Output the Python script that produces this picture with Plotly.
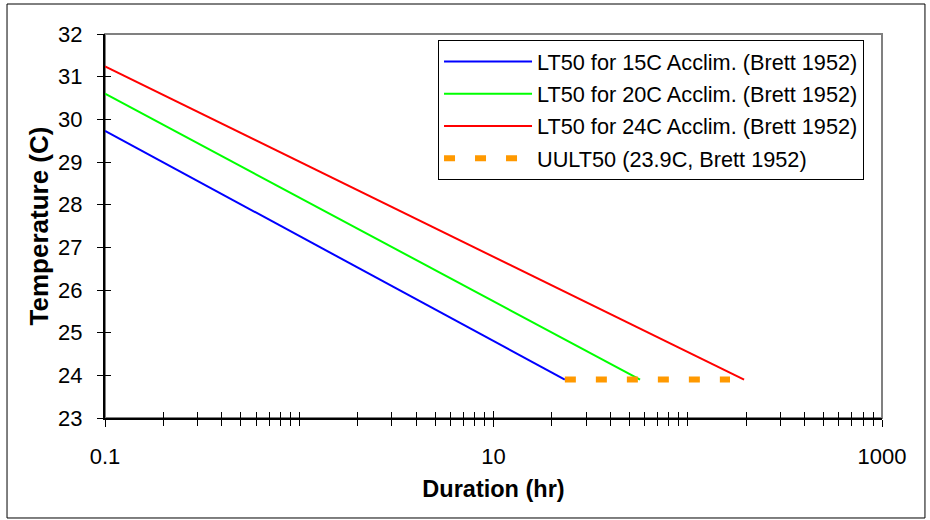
import plotly.graph_objects as go

# Data
series_names = [
    "LT50 for 15C Acclim. (Brett 1952)",
    "LT50 for 20C Acclim. (Brett 1952)",
    "LT50 for 24C Acclim. (Brett 1952)",
]
dur_15 = [0.1, 23.3]
temp_15 = [29.73, 23.9]
dur_20 = [0.1, 56.8]
temp_20 = [30.6, 23.9]
dur_24 = [0.1, 195.0]
temp_24 = [31.24, 23.9]
uult_name = "UULT50 (23.9C, Brett 1952)"
uult_dur = [23.3, 165.0]
uult_temp = [23.9, 23.9]

x_major_ticks = [0.1, 10, 1000]
x_major_labels = ["0.1", "10", "1000"]
x_minor_ticks = [0.2, 0.3, 0.4, 0.5, 0.6, 0.7, 0.8, 0.9, 1,
                 2, 3, 4, 5, 6, 7, 8, 9,
                 20, 30, 40, 50, 60, 70, 80, 90, 100,
                 200, 300, 400, 500, 600, 700, 800, 900]
y_ticks = [23, 24, 25, 26, 27, 28, 29, 30, 31, 32]

FONT = "Liberation Sans, Arial, sans-serif"
colors = ["#0000FF", "#00FF00", "#FF0000"]

fig = go.Figure()
for name, xs, ys, c in zip(series_names, [dur_15, dur_20, dur_24],
                           [temp_15, temp_20, temp_24], colors):
    fig.add_trace(go.Scatter(x=xs, y=ys, mode="lines", name=name,
                             legendgroup=name,
                             line=dict(color=c, width=2)))
fig.add_trace(go.Scatter(x=uult_dur, y=uult_temp, mode="lines", name=uult_name,
                         legendgroup=uult_name,
                         line=dict(color="#FF9900", width=6, dash="11px,20px")))

# overlay axes to give ticks that cross the axis lines
fig.add_trace(go.Scatter(x=[0.1], y=[23], xaxis="x2", yaxis="y2", mode="markers",
                         marker=dict(opacity=0), showlegend=False, hoverinfo="skip"))

tick_font = dict(family=FONT, size=22, color="black")

fig.update_layout(
    width=930, height=520,
    margin=dict(l=105, r=48, t=34, b=102),
    paper_bgcolor="white", plot_bgcolor="white",
    font=dict(family=FONT, size=22, color="black"),
    showlegend=True,
    legend=dict(x=0.4286, y=0.9844, xanchor="left", yanchor="top",
                bgcolor="white", bordercolor="black", borderwidth=1,
                font=dict(family=FONT, size=21.7, color="black"),
                traceorder="grouped", tracegroupgap=1, itemwidth=88),
    xaxis=dict(type="log", range=[-1, 3], showgrid=False, zeroline=False,
               showline=True, linecolor="black", linewidth=2,
               tickmode="array", tickvals=x_major_ticks, ticktext=x_major_labels,
               ticks="outside", ticklen=7, tickwidth=1, tickcolor="black",
               ticklabelstandoff=11, tickfont=tick_font,
               minor=dict(tickmode="array", tickvals=x_minor_ticks,
                          ticks="outside", ticklen=6, tickwidth=1, tickcolor="black",
                          showgrid=False),
               title=dict(text="<b>Duration (hr)</b>", standoff=12,
                          font=dict(family=FONT, size=23.5, color="black"))),
    yaxis=dict(range=[23, 32], showgrid=False, zeroline=False,
               showline=True, linecolor="black", linewidth=2,
               tickmode="array", tickvals=y_ticks,
               ticks="outside", ticklen=6, tickwidth=1, tickcolor="black",
               ticklabelstandoff=10, tickfont=tick_font,
               title=dict(text="<b>Temperature (C)</b>", standoff=2,
                          font=dict(family=FONT, size=26, color="black"))),
    xaxis2=dict(type="log", range=[-1, 3], overlaying="x", anchor="y2", side="bottom",
                showgrid=False, zeroline=False, showline=False, showticklabels=False,
                tickmode="array", tickvals=x_major_ticks,
                ticks="inside", ticklen=7, tickwidth=1, tickcolor="black",
                minor=dict(tickmode="array", tickvals=x_minor_ticks,
                           ticks="inside", ticklen=6, tickwidth=1, tickcolor="black",
                           showgrid=False)),
    yaxis2=dict(range=[23, 32], overlaying="y", anchor="x2", side="left",
                showgrid=False, zeroline=False, showline=False, showticklabels=False,
                tickmode="array", tickvals=y_ticks,
                ticks="inside", ticklen=6, tickwidth=1, tickcolor="black"),
    shapes=[
        dict(type="rect", xref="paper", yref="paper", x0=0, x1=1, y0=0, y1=1,
             line=dict(color="#808080", width=2), layer="below"),
        dict(type="rect", xref="paper", yref="paper",
             x0=-0.1261, x1=1.0553, y0=-0.2604, y1=1.0781,
             line=dict(color="black", width=1), layer="below"),
    ],
)

fig.write_html("out.html", config={"displayModeBar": False},
               post_script="document.body.style.margin='0px';")
